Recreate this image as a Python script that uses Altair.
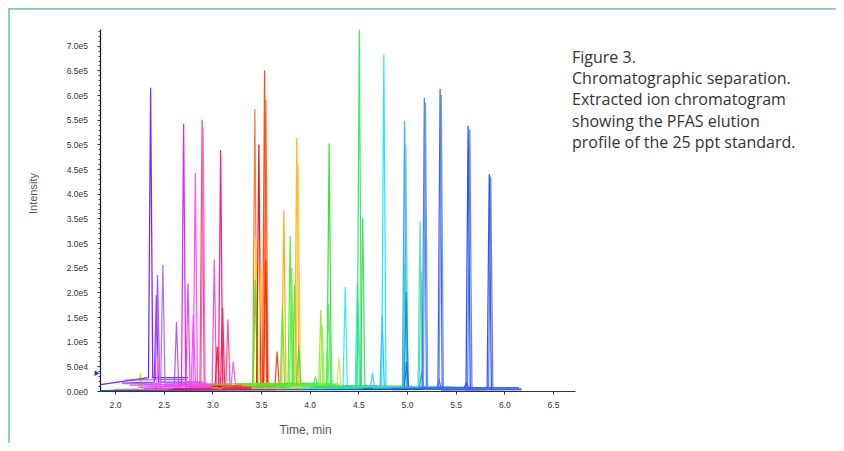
import altair as alt
import pandas as pd

# ---------------- data ----------------
x_ticks = [2.0, 2.5, 3.0, 3.5, 4.0, 4.5, 5.0, 5.5, 6.0, 6.5]
y_ticks = [i * 50000 for i in range(15)]
y_minor = [i * 10000 for i in range(74)]

# retention time (min) of each trace's peak
rt = [2.262, 2.258, 2.366, 2.425, 2.437, 2.445, 2.492, 2.632, 2.705, 2.750,
      2.805, 2.825, 2.895, 2.905, 3.020, 3.050, 3.085, 3.105, 3.160, 3.215,
      3.437, 3.447, 3.440, 3.478, 3.500, 3.537, 3.550, 3.548, 3.665, 3.735,
      3.720, 3.800, 3.815, 3.845, 3.868, 3.882, 3.888, 4.060, 4.115, 4.130,
      4.200, 4.195, 4.210, 4.300, 4.365, 4.490, 4.500, 4.510, 4.545, 4.645,
      4.745, 4.762, 4.975, 4.988, 4.980, 4.992, 4.995, 5.135, 5.145, 5.150,
      5.178, 5.190, 5.340, 5.352, 5.330, 5.628, 5.645, 5.610, 5.845, 5.860,
      6.040]
# peak apex intensity (counts)
height = [36000, 22000, 615000, 194000, 235000, 73000, 256000, 140000, 542000, 218000,
          155000, 442000, 550000, 535000, 267000, 90000, 488000, 169000, 145000, 59000,
          572000, 310000, 226000, 500000, 259000, 650000, 590000, 267000, 80000, 366000,
          174000, 314000, 250000, 214000, 513000, 460000, 93000, 29000, 164000, 131000,
          502000, 176000, 149000, 67000, 211000, 219000, 178000, 733000, 350000, 37000,
          154000, 682000, 548000, 500000, 260000, 200000, 59000, 345000, 243000, 39000,
          594000, 585000, 613000, 600000, 22000, 538000, 530000, 16000, 440000, 435000,
          7000]
# baseline at the start of the trace window
base0 = [2000, 4000, 13000, 16000, 22000, 3000, 15000, 12000, 8000, 5000,
         13000, 10000, 5000, 4000, 11000, 4000, 3000, 5000, 2000, 13000,
         10000, 7000, 14000, 9000, 6000, 7000, 9000, 5000, 8000, 11000,
         15000, 13000, 11000, 9000, 4000, 6000, 10000, 10000, 8000, 7000,
         8000, 10000, 9000, 7000, 6000, 6000, 8000, 7000, 9000, 5000,
         4000, 5000, 6000, 7000, 8000, 5000, 4000, 6000, 7000, 5000,
         4000, 5000, 3000, 4000, 5000, 1000, 4000, 6000, 2000, 4000,
         2000]
# baseline around the peak and to the end of the window
base = [3000, 5000, 27000, 18000, 23000, 4000, 16000, 13000, 9000, 6000,
        14000, 10000, 6000, 5000, 11000, 5000, 4000, 6000, 3000, 14000,
        12000, 8000, 15000, 10000, 7000, 8000, 10000, 6000, 9000, 12000,
        16000, 14000, 12000, 10000, 5000, 7000, 11000, 11000, 9000, 8000,
        9000, 11000, 10000, 8000, 7000, 7000, 9000, 8000, 10000, 6000,
        5000, 6000, 7000, 8000, 9000, 6000, 5000, 7000, 8000, 6000,
        5000, 6000, 4000, 5000, 6000, 4000, 5000, 7000, 3000, 5000,
        3000]
win_start = [1.95, 2.00, 1.85, 2.07, 2.10, 2.00, 2.10, 2.15, 2.25, 2.30,
             2.30, 2.35, 2.40, 2.45, 2.50, 2.60, 2.55, 2.60, 2.70, 2.75,
             2.95, 3.00, 3.00, 3.00, 3.05, 3.05, 3.10, 3.10, 3.20, 3.30,
             3.30, 3.35, 3.35, 3.40, 3.40, 3.40, 3.45, 3.60, 3.65, 3.70,
             3.70, 3.75, 3.75, 3.80, 3.90, 4.00, 4.00, 4.00, 4.05, 4.15,
             4.25, 4.25, 4.50, 4.50, 4.50, 4.55, 4.55, 4.65, 4.65, 4.70,
             4.70, 4.70, 4.85, 4.85, 4.85, 1.85, 5.15, 5.15, 5.35, 5.35,
             5.60]
win_end = [2.65, 2.70, 2.75, 2.90, 2.72, 3.00, 2.95, 3.05, 3.10, 3.20,
           3.10, 3.25, 3.40, 3.35, 3.35, 3.60, 3.55, 3.60, 3.65, 3.35,
           3.90, 3.95, 4.00, 3.95, 4.00, 4.05, 4.05, 4.10, 4.10, 4.20,
           4.20, 4.30, 4.30, 4.30, 4.35, 4.35, 4.40, 4.50, 4.60, 4.60,
           4.70, 4.70, 4.70, 4.80, 4.85, 5.00, 5.00, 5.00, 5.05, 5.15,
           5.25, 5.25, 5.50, 5.50, 5.45, 5.50, 5.55, 5.60, 5.60, 5.65,
           5.70, 5.70, 5.85, 5.85, 5.85, 6.10, 6.10, 6.15, 6.175, 6.175,
           6.175]

arrow_level = [36000]

caption_lines = [
    "Figure 3.",
    "Chromatographic separation.",
    "Extracted ion chromatogram",
    "showing the PFAS elution",
    "profile of the 25 ppt standard.",
]

# ---------------- styles ----------------
trace_colors = [
    "#b4f000", "#d8f020", "#6a0cff", "#8a24ff", "#9c48ff", "#ff70c8", "#a864ff", "#b448f0", "#d414ff", "#ff34c4",
    "#e44cff", "#ff44ff", "#ff2c84", "#ff6ca8", "#f044e4", "#ff1414", "#ff0474", "#ff1444", "#ff4494", "#f054f0",
    "#ff6c24", "#e8e400", "#34f024", "#e00414", "#ffc424", "#ff3c00", "#ff5c14", "#ff2404", "#ff3424", "#ffa414",
    "#54f024", "#44f024", "#64f044", "#34e834", "#ffb004", "#ffc444", "#44e024", "#44e064", "#84f024", "#94f044",
    "#24e024", "#44f064", "#64f064", "#c4f044", "#24f0e4", "#24f0c4", "#44e4c4", "#24e864", "#34e044", "#24d4f0",
    "#24b4f0", "#14e8f4", "#24a4f4", "#64bcf8", "#24e0a4", "#1484f0", "#2464f0", "#44e4a4", "#34e0b4", "#1494e4",
    "#3474ff", "#6894ff", "#2454ff", "#6c88ff", "#4470f0", "#0c3cff", "#5474ff", "#3454f0", "#1c44f0", "#5474f0",
    "#4a6cf0",
]
HW = 0.022  # half width of a peak at its base (min)

rows = []
ids = []
for k in range(len(rt)):
    tid = f"t{k:02d}"
    ids.append(tid)
    verts = [(win_start[k], base0[k]), (rt[k] - HW, base[k]), (rt[k], height[k]),
             (rt[k] + HW, base[k]), (win_end[k], base[k])]
    for i, (t, v) in enumerate(verts):
        rows.append({"trace": tid, "i": i, "time": t, "intensity": v})
df = pd.DataFrame(rows)

FONT = "Liberation Sans"
W, H = 475, 362
PAD = {"left": 92, "top": 21, "right": 261, "bottom": 52}

xscale = alt.Scale(domain=[1.846, 6.726], nice=False, zero=False)
yscale = alt.Scale(domain=[0, 734000], nice=False, zero=True)

lines = alt.Chart(df).mark_line(strokeWidth=1.25, opacity=0.9, clip=True).encode(
    x=alt.X("time:Q", scale=xscale,
            axis=alt.Axis(values=x_ticks, format=".1f", grid=False, tickSize=3,
                          tickColor="#333", domainColor="#333", domainWidth=1.2,
                          labelFont=FONT, labelFontSize=8.5, labelColor="#333",
                          labelPadding=6.5, title="Time, min", titleFont=FONT,
                          titleFontSize=12, titleFontWeight="normal", titleColor="#555",
                          titleY=38, titleBaseline="middle", titleX=205)),
    y=alt.Y("intensity:Q", scale=yscale,
            axis=alt.Axis(values=y_ticks, grid=False, tickSize=3, tickColor="#222",
                          domainColor="#111", domainWidth=1.2,
                          labelExpr="replace(format(datum.value, '.1e'), 'e+', 'e')",
                          labelFont=FONT, labelFontSize=8.5, labelColor="#333",
                          labelPadding=9.5, title="Intensity", titleFont=FONT,
                          titleFontSize=11, titleFontWeight="normal", titleColor="#555",
                          titleX=-67, titleY=164, titleAngle=-90, titleBaseline="middle",
                          titleAlign="center")),
    color=alt.Color("trace:N", scale=alt.Scale(domain=ids, range=trace_colors), legend=None),
    order=alt.Order("i:Q"),
)

arrow = alt.Chart(pd.DataFrame({"level": arrow_level})).mark_point(
    shape="triangle-right", filled=True, size=30, color="#1a30d0", opacity=1
).encode(
    x=alt.value(-3),
    y=alt.Y("level:Q", scale=yscale,
            axis=alt.Axis(orient="left", values=y_minor, labels=False, domain=False,
                          grid=False, tickSize=2, tickColor="#444", title=None)),
)

one = pd.DataFrame({"a": [0]})
border_left = alt.Chart(one).mark_rule(color="#7cc8d4", strokeWidth=1.8).encode(
    x=alt.value(-91), y=alt.value(-21), y2=alt.value(H + PAD["bottom"]))
border_top = alt.Chart(one).mark_rule(color="#7cc8d4", strokeWidth=1.8).encode(
    x=alt.value(-92), x2=alt.value(W + PAD["right"]), y=alt.value(-20.2))

caption = alt.Chart(pd.DataFrame({"txt": ["\n".join(caption_lines)]})).mark_text(
    align="left", baseline="alphabetic", lineBreak="\n", lineHeight=21.2,
    font="Open Sans", fontSize=16, color="#333"
).encode(x=alt.value(472), y=alt.value(34), text="txt:N")

chart = alt.layer(lines, arrow, border_left, border_top, caption).resolve_axis(
    y="independent"
).properties(
    width=W, height=H, padding=PAD,
    autosize=alt.AutoSizeParams(type="none"),
    background="white",
).configure_view(strokeWidth=0)

chart.save("out.html", embed_options={"renderer": "svg", "actions": False})
